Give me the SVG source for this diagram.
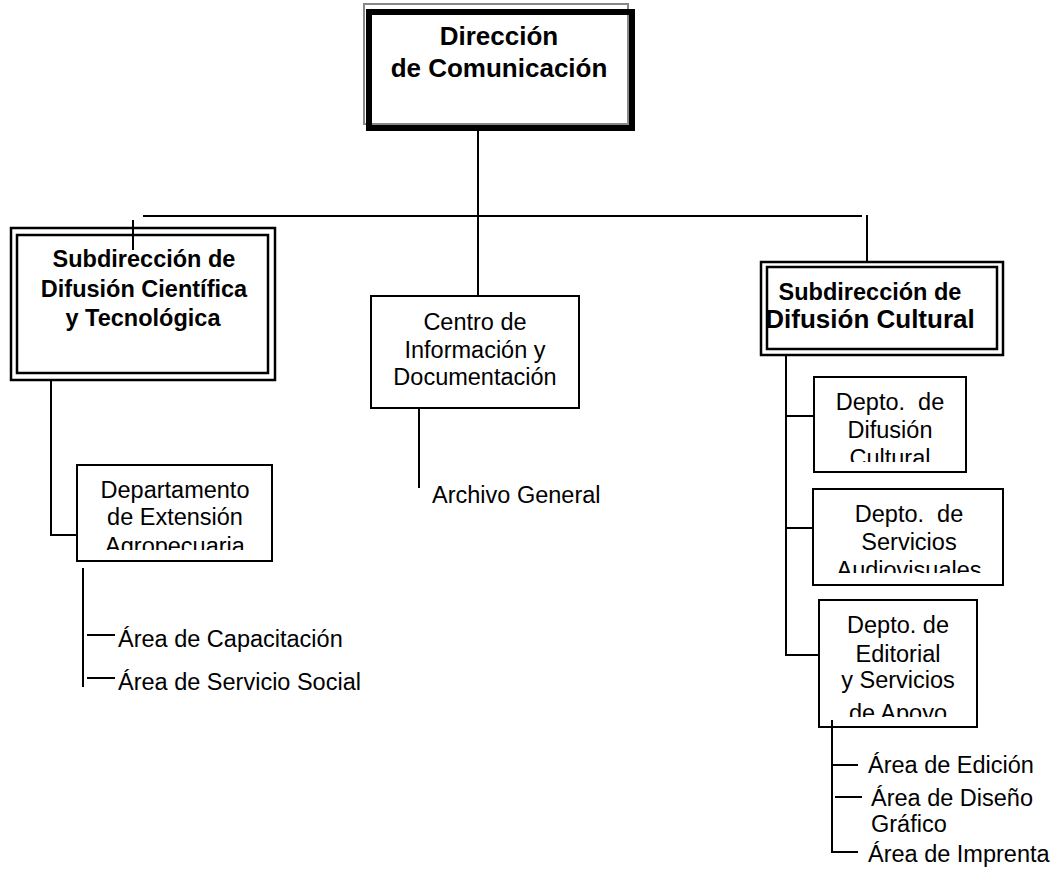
<svg xmlns="http://www.w3.org/2000/svg" width="1062" height="869" viewBox="0 0 1062 869">
<style>
.b{fill:#fff;stroke:#000;stroke-width:2}
.t{font-family:"Liberation Sans",Arial,sans-serif;font-size:23.5px;fill:#000}
.bo{font-weight:bold}
.m{text-anchor:middle}
.c{fill:none;stroke:#000;stroke-width:2}
</style>
<defs>
<clipPath id="c1"><rect x="814" y="377" width="152" height="85"/></clipPath>
<clipPath id="c2"><rect x="813" y="489" width="190" height="84"/></clipPath>
<clipPath id="c3"><rect x="819" y="600" width="158" height="117"/></clipPath>
<clipPath id="c4"><rect x="77" y="465" width="195" height="85"/></clipPath>
</defs>
<rect width="1062" height="869" fill="#fff"/>
<g id="connectors">
<path class="c" d="M478,131 V296"/>
<path class="c" d="M143,216 H862 M867,215 V262"/>
<path class="c" d="M133,220 V250"/>
<path class="c" d="M51,380 V535 H77"/>
<path class="c" d="M83,568 V687 M87,635 H115 M87,678 H115"/>
<path class="c" d="M419,408 V488"/>
<path class="c" d="M786,355 V655 H819 M786,416 H814 M786,528 H813"/>
<path class="c" d="M832,720 V852 H858 M832,765 H858 M835,797 H862"/>
</g>
<g id="n-direccion">
<rect x="364" y="4" width="264" height="120" fill="#fff" stroke="#888" stroke-width="2"/>
<rect x="369" y="12" width="263" height="116" fill="none" stroke="#000" stroke-width="6"/>
<text class="t bo m" x="499" y="45" style="font-size:26px">Dirección</text>
<text class="t bo m" x="499" y="77" style="font-size:26px">de Comunicación</text>
</g>
<g id="n-cientifica">
<rect x="11" y="228" width="264" height="152" fill="#fff" stroke="#000" stroke-width="2.5"/>
<rect x="17" y="235" width="251" height="138" fill="none" stroke="#000" stroke-width="2.5"/>
<text class="t bo m" x="144" y="267">Subdirección de</text>
<text class="t bo m" x="144" y="297">Difusión Científica</text>
<text class="t bo m" x="143" y="326">y Tecnológica</text>
</g>
<path class="c" d="M133,220 V250"/>
<g id="n-centro">
<rect class="b" x="371" y="296" width="208" height="112"/>
<text class="t m" x="475" y="330">Centro de</text>
<text class="t m" x="475" y="358">Información y</text>
<text class="t m" x="475" y="385">Documentación</text>
</g>
<g id="n-archivo">
<text class="t" x="432" y="503">Archivo General</text>
</g>
<g id="n-cultural">
<rect x="761" y="262" width="242" height="93" fill="#fff" stroke="#000" stroke-width="2.5"/>
<rect x="767" y="267" width="230" height="82" fill="none" stroke="#000" stroke-width="2.5"/>
<text class="t bo m" x="870" y="300">Subdirección de</text>
<text class="t bo m" x="870" y="328" style="font-size:26px">Difusión Cultural</text>
</g>
<g id="n-depto-difusion">
<rect class="b" x="814" y="377" width="152" height="95"/>
<g clip-path="url(#c1)">
<text class="t m" x="890" y="410" xml:space="preserve">Depto.  de</text>
<text class="t m" x="890" y="438">Difusión</text>
<text class="t m" x="890" y="466">Cultural</text>
</g>
</g>
<g id="n-depto-audiovisuales">
<rect class="b" x="813" y="489" width="190" height="96"/>
<g clip-path="url(#c2)">
<text class="t m" x="909" y="522" xml:space="preserve">Depto.  de</text>
<text class="t m" x="909" y="550">Servicios</text>
<text class="t m" x="909" y="578">Audiovisuales</text>
</g>
</g>
<g id="n-depto-editorial">
<rect class="b" x="819" y="600" width="158" height="127"/>
<g clip-path="url(#c3)">
<text class="t m" x="898" y="633">Depto. de</text>
<text class="t m" x="898" y="662">Editorial</text>
<text class="t m" x="898" y="688">y Servicios</text>
<text class="t m" x="898" y="721">de Apoyo</text>
</g>
</g>
<path class="c" d="M832,720 V727"/>
<g id="n-depto-agro">
<rect class="b" x="77" y="465" width="195" height="96"/>
<g clip-path="url(#c4)">
<text class="t m" x="175" y="498">Departamento</text>
<text class="t m" x="175" y="525">de Extensión</text>
<text class="t m" x="175" y="554">Agropecuaria</text>
</g>
</g>
<g id="n-areas-agro">
<text class="t" x="118" y="647">Área de Capacitación</text>
<text class="t" x="118" y="690">Área de Servicio Social</text>
</g>
<g id="n-areas-editorial">
<text class="t" x="868" y="773">Área de Edición</text>
<text class="t" x="871" y="806">Área de Diseño</text>
<text class="t" x="871" y="832">Gráfico</text>
<text class="t" x="868" y="862">Área de Imprenta</text>
</g>
</svg>
